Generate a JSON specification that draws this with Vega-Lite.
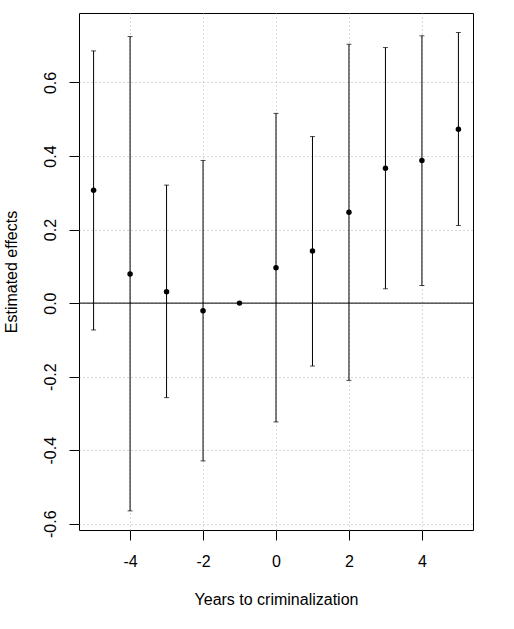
{
  "$schema": "https://vega.github.io/schema/vega-lite/v6.json",
  "autosize": "none",
  "width": 394,
  "height": 517,
  "padding": {"left": 79, "top": 13, "right": 41, "bottom": 99},
  "background": "white",
  "config": {
    "font": "Liberation Sans",
    "view": {"stroke": "black", "strokeWidth": 1},
    "axis": {
      "domain": false,
      "grid": true,
      "gridColor": "#b0b0b0",
      "gridDash": [1, 3],
      "gridWidth": 1,
      "tickColor": "black",
      "tickSize": 10,
      "labelColor": "black",
      "labelFontSize": 16,
      "titleColor": "black",
      "titleFontSize": 16,
      "titleFontWeight": "normal"
    }
  },
  "data": {
    "values": [
      {"year": -5, "est": 0.307, "lo": -0.073, "hi": 0.686},
      {"year": -4, "est": 0.079, "lo": -0.565, "hi": 0.725},
      {"year": -3, "est": 0.031, "lo": -0.257, "hi": 0.321},
      {"year": -2, "est": -0.021, "lo": -0.429, "hi": 0.388},
      {"year": -1, "est": 0.0, "lo": 0.0, "hi": 0.0},
      {"year": 0, "est": 0.096, "lo": -0.323, "hi": 0.516},
      {"year": 1, "est": 0.142, "lo": -0.171, "hi": 0.453},
      {"year": 2, "est": 0.247, "lo": -0.21, "hi": 0.704},
      {"year": 3, "est": 0.367, "lo": 0.039, "hi": 0.695},
      {"year": 4, "est": 0.388, "lo": 0.048, "hi": 0.727},
      {"year": 5, "est": 0.473, "lo": 0.211, "hi": 0.736}
    ]
  },
  "encoding": {
    "x": {
      "field": "year",
      "type": "quantitative",
      "scale": {"domain": [-5.4, 5.4], "nice": false, "zero": false},
      "axis": {
        "values": [-4, -2, 0, 2, 4],
        "labelExpr": "replace(format(datum.value, 'd'), '\u2212', '-')",
        "title": "Years to criminalization",
        "labelBaseline": "middle",
        "labelPadding": 21,
        "titleX": 197,
        "titleY": 69,
        "titleBaseline": "middle",
        "titleAlign": "center"
      }
    }
  },
  "layer": [
    {
      "mark": {"type": "rule", "color": "black", "strokeWidth": 1},
      "encoding": {
        "y": {
          "field": "lo",
          "type": "quantitative",
          "scale": {"domain": [-0.617, 0.789], "nice": false, "zero": false},
          "axis": {
            "values": [-0.6, -0.4, -0.2, 0, 0.2, 0.4, 0.6],
            "labelExpr": "replace(format(datum.value, '.1f'), '\u2212', '-')",
            "title": "Estimated effects",
            "labelAngle": -90,
            "labelAlign": "center",
            "labelBaseline": "middle",
            "labelPadding": 19,
            "titleAngle": -90,
            "titleX": -68,
            "titleY": 258.5,
            "titleAlign": "center",
            "titleBaseline": "middle"
          }
        },
        "y2": {"field": "hi"}
      }
    },
    {
      "mark": {"type": "tick", "orient": "horizontal", "color": "black", "size": 5, "thickness": 1},
      "encoding": {"y": {"field": "lo", "type": "quantitative"}}
    },
    {
      "mark": {"type": "tick", "orient": "horizontal", "color": "black", "size": 5, "thickness": 1},
      "encoding": {"y": {"field": "hi", "type": "quantitative"}}
    },
    {
      "data": {"values": [{"h": 0}]},
      "mark": {"type": "rule", "color": "black", "strokeWidth": 1},
      "encoding": {"x": null, "y": {"field": "h", "type": "quantitative"}}
    },
    {
      "mark": {"type": "circle", "color": "black", "opacity": 1, "size": 30},
      "encoding": {"y": {"field": "est", "type": "quantitative"}}
    }
  ]
}
